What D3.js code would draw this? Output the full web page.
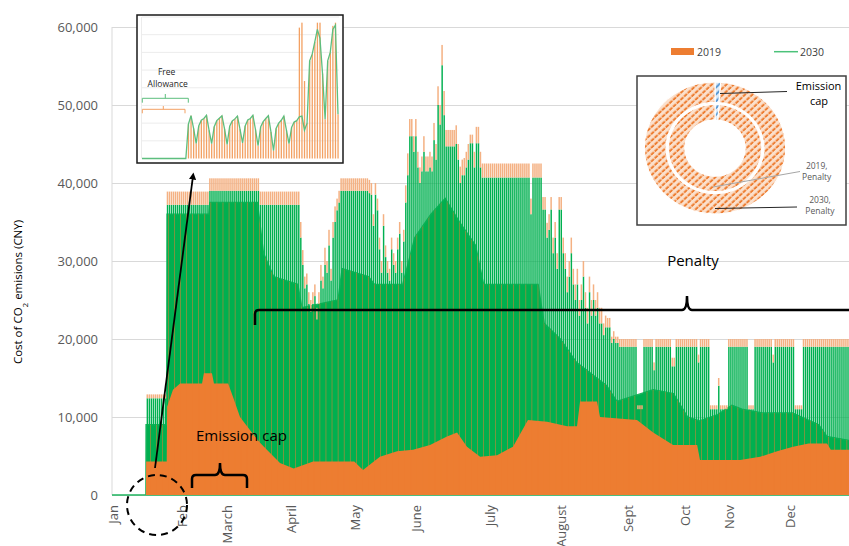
<!DOCTYPE html>
<html>
<head>
<meta charset="utf-8">
<script src="https://cdn.jsdelivr.net/npm/d3@7"></script>
<style>
body { margin: 0; background: #fff; }
text { font-family: "Open Sans", sans-serif; }
</style>
</head>
<body>
<svg id="chart" width="849" height="546"></svg>
<script>
// values in thousand CNY, one entry per day of the year (row = one week, starting Tue 1 Jan)
var peak2019 = [
  0,0,0,0,0,0,0,
  0,0,0,0,0,0,0,
  0,0,0,12.9,12.9,12.9,12.9,
  12.9,12.9,12.9,12.9,12.9,12.9,38.9,
  38.9,38.9,38.9,38.9,38.9,38.9,38.9,
  38.9,38.9,38.9,38.9,38.9,38.9,38.9,
  38.9,38.9,38.9,38.9,38.9,38.9,40.6,
  40.6,40.6,40.6,40.6,40.6,40.6,40.6,
  40.6,40.6,40.6,40.6,40.6,40.6,40.6,
  40.6,40.6,40.6,40.6,40.6,40.6,40.6,
  40.6,40.6,40.6,38.9,38.9,38.9,38.9,
  38.9,38.9,38.9,38.9,38.9,38.9,38.9,
  38.9,38.9,38.9,38.9,38.9,38.9,38.9,
  38.9,38.9,35,31.4,28,28.4,26,
  25,26,27,24,26,29.5,28,
  31.7,30,34,29,35,37,38,
  39,40.6,40.6,40.6,40.6,40.6,40.6,
  40.6,40.6,40.6,40.6,40.6,40.6,40.6,
  40.6,40.4,40,36,40,38,33,
  30,36,32,30,29,33,31,
  30,33,35,30,34,39.7,43.8,
  48.2,48.2,46,48.2,44,42,43.4,
  46,43.4,43.4,44,43.4,47.7,45,
  52.4,50,57.7,51.8,46.8,46.8,46.8,
  46.8,46.8,47.4,45,42.1,43,43.2,
  44,45,46.2,46.2,44,47.2,47.2,
  44,42.5,42.5,42.5,42.5,42.5,42.5,
  42.5,42.5,42.5,42.5,42.5,42.5,42.5,
  42.5,42.5,42.5,42.5,42.5,42.5,42.5,
  42.5,42.5,42.5,42.5,38,42.5,42.5,
  42.5,42.5,42.5,38.2,38.2,34.9,36,
  38.2,33,35,31,38.2,38.2,33,
  31,28,30,33,29,27,29,
  25,27,30,26,24,28,25,
  27,25,26,24,24,22,23,
  22.7,22.7,20.3,21,20.3,20.3,20,
  20,20,20,20,20,20,20,
  20,11.5,11.5,11.5,20,20,20,
  20,20,17,20,20,20,20,
  20,20,20,20,17.6,17.6,20,
  20,20,20,20,20,20,20,
  20,20,20,18,20,20,20,
  20,20,11.5,11.5,11.5,11.5,15,
  11.5,11.5,11.5,11.5,20,20,20,
  20,20,20,20,20,20,20,
  11.5,11.5,11.5,20,20,20,20,
  20,20,20,20,20,18,20,
  20,20,20,20,20,20,20,
  20,20,11.5,11.5,11.5,11.5,20,
  20,20,20,20,20,20,20,
  20,20,20,20,20,20,20,
  20,20,20,20,20,20,20,
  20
];
var peak2030 = [
  0,0,0,0,0,0,0,
  0,0,0,0,0,0,0,
  0,0,0,12.4,12.4,12.4,12.4,
  12.4,12.4,12.4,12.4,12.4,12.4,37.2,
  37.2,37.2,37.2,37.2,37.2,37.2,37.2,
  37.2,37.2,37.2,37.2,37.2,37.2,37.2,
  37.2,37.2,37.2,37.2,37.2,37.2,39,
  39,39,39,39,39,39,39,
  39,39,39,39,39,39,39,
  39,39,39,39,39,39,39,
  39,39,39,37.2,37.2,37.2,37.2,
  37.2,37.2,37.2,37.2,37.2,37.2,37.2,
  37.2,37.2,37.2,37.2,37.2,37.2,37.2,
  37.2,37.2,33,29.5,26.5,27,24.5,
  23.5,24.5,25.5,22.5,24.5,27.5,26.5,
  29.5,28.5,32,27.5,33,35,36.5,
  37.5,39,39,39,39,39,39,
  39,39,39,39,39,39,39,
  39,38.7,38.5,34.5,38.5,36.5,31.5,
  28.5,34.5,30.5,28.5,27.5,31.5,29.5,
  28.5,31.5,33.5,28.5,32.5,37.5,41,
  46,46,44,46,42,40,41.5,
  44,41.5,41.5,42,41.5,45.5,43,
  50,47.5,55.1,48.7,44.7,44.7,44.7,
  44.7,44.7,45,43,40,41,41,
  42,43,45.1,45.1,42,45.1,45.1,
  42,40.7,40.7,40.7,40.7,40.7,40.7,
  40.7,40.7,40.7,40.7,40.7,40.7,40.7,
  40.7,40.7,40.7,40.7,40.7,40.7,40.7,
  40.7,40.7,40.7,40.7,36,40.7,40.7,
  40.7,40.7,40.7,36.6,36.6,33,34,
  36.6,31,33,29,36.6,36.6,31,
  29,26,28,31,27,25,27,
  23,25,28,24,22,26,23,
  25,23,24,22,22,20.5,21.5,
  21.5,21.5,19.5,20,19.5,19.5,19,
  19,19,19,19,19,19,19,
  19,11,11,11,19,19,19,
  19,19,16,19,19,19,19,
  19,19,19,19,16.5,16.5,19,
  19,19,19,19,19,19,19,
  19,19,19,17,19,19,19,
  19,19,11,11,11,11,14,
  11,11,11,11,19,19,19,
  19,19,19,19,19,19,19,
  11,11,11,19,19,19,19,
  19,19,19,19,19,17,19,
  19,19,19,19,19,19,19,
  19,19,11,11,11,11,19,
  19,19,19,19,19,19,19,
  19,19,19,19,19,19,19,
  19,19,19,19,19,19,19,
  19
];
// 2019 emission-cap level (solid orange), [day, thousand CNY]
var cap2019 = [
  [0,0],[16.8,0],[16.9,4.3],[27.1,4.3],[27.3,11.3],[30.2,13.5],[33.7,14.3],[44.6,14.3],
  [45.5,15.6],[49.5,15.6],[50.5,14.3],[57.5,14.3],[59.9,12.6],[63.4,10],[68.4,8.3],
  [73.3,6.7],[78.3,5.4],[83.2,4.1],[90,3.4],[99.6,4.3],[120,4.3],[124.3,3.2],[132.7,4.9],
  [141.2,5.6],[149.1,5.8],[157.5,6.4],[165.9,7.5],[170.9,8],[175.8,6.2],[182.3,4.9],
  [190.7,5.1],[198.6,6.2],[206,9.6],[215.5,9.4],[225.4,8.8],[230.3,8.8],[231.8,12],
  [240.2,12],[241.7,10],[260,9.6],[268,8],[277.9,6.4],[289.8,6.4],[291.2,4.5],[311.1,4.5],
  [321,4.9],[329.4,5.6],[337.3,6.2],[345,6.6],[354.1,6.6],[356,5.8],[365,5.8]
];
// top of the dense 2030 band, [day, thousand CNY]
var band2030 = [
  [0,0],[16.8,0],[16.9,9],[27.1,9],[27.3,36],[48,36],[48.5,37.5],[72,37.5],[75,31],
  [80,28],[92,27],[94,24],[112,25],[114,29],[127,28],[130,27],[144,27],[150,33],
  [158,36],[165,38],[172,35],[180,32],[184,27],[211,27],[214,22],[222,20],[230,17],
  [245,14],[250,12],[268,13.5],[278,13],[285,10],[291,9.5],[300,10.3],[307,11.5],
  [312,11],[322,10.5],[337,10.5],[350,9],[354,7.5],[365,7]
];
var yTicks = [0, 10, 20, 30, 40, 50, 60];
var monthLabels = ['Jan','Feb','March','April','May','June','July','August','Sept','Oct','Nov','Dec'];
var monthDays = [0.5, 34.7, 57, 88.7, 120.4, 150.9, 187.2, 222.4, 255.7, 283.8, 305.6, 335.8];

// zoomed inset (free allowance period), thousand CNY per 4-hour step
var insetOrange = [
  0,0,0,0,0,0,0,0,0,0,0,0,0,0,0,0,0,0,9.7,
  12.1,8.5,4.3,9.2,10.8,11.3,
  12.2,8.0,4.2,9.0,10.7,11.4,
  12.1,8.4,4.0,9.1,10.6,11.2,
  12.0,8.3,4.4,9.2,10.9,11.3,
  12.2,8.2,3.6,8.9,10.4,11.3,
  12.1,7.5,2.2,8.5,10.0,10.8,
  12.0,8.0,4.2,8.8,10.3,10.7,
  37.0,38.4,21.9,10.0,27.6,29.5,33.0,38.4,38.4,24.0,11.1,27.6,30.0,37.5,38.4,12.5
];
var insetGreen = [
  0,0,0,0,0,0,0,0,0,0,0,0,0,0,0,0,0,0,9.7,
  12.1,8.5,4.3,9.2,10.8,11.3,
  12.2,8.0,4.2,9.0,10.7,11.4,
  12.1,8.4,4.0,9.1,10.6,11.2,
  12.0,8.3,4.4,9.2,10.9,11.3,
  12.2,8.2,3.6,8.9,10.4,11.3,
  12.1,7.5,2.2,8.5,10.0,10.8,
  12.0,8.0,4.2,8.8,10.3,10.7,
  11.8,12.0,8.0,10.0,27.6,29.5,33.0,36.5,34.0,24.0,11.1,27.6,30.0,36.5,37.7,12.5
];

// share of yearly cost: emission cap vs penalty (%)
var donutParts = ['Emission cap', 'Penalty'];
var donut2019 = [1.5, 98.5];
var donut2030 = [1.3, 98.7];

var orange = '#ED7D31', orangeTip = '#F4B183', green = '#00B050';

var svg = d3.select('#chart'),
    margin = {top: 27, right: 0, bottom: 51, left: 112},
    width = +svg.attr('width') - margin.left - margin.right,
    height = +svg.attr('height') - margin.top - margin.bottom;

var defs = svg.append('defs');

var g = svg.append('g')
    .attr('transform', 'translate(' + margin.left + ',' + margin.top + ')');

var x = d3.scaleLinear().domain([0, 365]).range([0, width]);
var y = d3.scaleLinear().domain([0, 60]).range([height, 0]);

// grid
g.append('g')
    .call(d3.axisLeft(y).tickValues(yTicks).tickSize(-width).tickFormat(''))
    .call(a => a.select('.domain').remove())
    .selectAll('line').attr('stroke', '#d9d9d9');

g.append('line')
    .attr('x1', 0).attr('x2', 0).attr('y1', 0).attr('y2', height)
    .attr('stroke', '#d9d9d9');

g.append('g')
    .call(d3.axisLeft(y).tickValues(yTicks).tickSize(0).tickPadding(14)
        .tickFormat(d => d3.format(',')(d * 1000)))
    .call(a => a.select('.domain').remove())
    .selectAll('text')
    .attr('fill', '#595959')
    .style('font-size', '13px')
    .style('font-family', '"Open Sans", sans-serif');

// month labels
g.append('g').selectAll('text')
    .data(monthLabels)
    .enter().append('text')
    .attr('transform', (d, i) => 'translate(' + x(monthDays[i]) + ',' + (height + 10) + ') rotate(-90)')
    .attr('text-anchor', 'end')
    .attr('dy', '0.35em')
    .attr('fill', '#595959')
    .style('font-size', '13px')
    .text(d => d);

// y title
svg.append('text')
    .attr('transform', 'translate(22,292) rotate(-90)')
    .attr('text-anchor', 'middle')
    .style('font-size', '11.5px')
    .attr('fill', '#000')
    .call(t => {
        t.append('tspan').text('Cost of CO');
        t.append('tspan').text('2').attr('baseline-shift', 'sub').style('font-size', '8px');
        t.append('tspan').text(' emisions (CNY)');
    });

// ---- series ----
var plot = g.append('g');
var days = d3.range(peak2019.length);

var bandArea = d3.area()
    .x(d => x(d[0]))
    .y0(height)
    .y1(d => y(d[1]));

defs.append('clipPath').attr('id', 'bandClip')
    .append('path').attr('d', bandArea(band2030))
    .attr('transform', 'translate(' + margin.left + ',' + margin.top + ')');

plot.append('path')
    .attr('d', bandArea(band2030))
    .attr('fill', green)
    .attr('stroke', '#1fb45f')
    .attr('stroke-width', 1.5);

// 2030 daily highs
plot.append('g').selectAll('rect')
    .data(days.filter(i => peak2030[i] > 0))
    .enter().append('rect')
    .attr('x', i => x(i) + 0.3)
    .attr('width', 1.45)
    .attr('y', i => y(peak2030[i]))
    .attr('height', i => height - y(peak2030[i]))
    .attr('fill', green);

// a few 2019 hours showing through the dense band
svg.append('g')
    .attr('clip-path', 'url(#bandClip)')
    .append('g')
    .attr('transform', 'translate(' + margin.left + ',' + margin.top + ')')
    .selectAll('rect')
    .data(days.filter(i => peak2019[i] > 0 && i % 3 === 0))
    .enter().append('rect')
    .attr('x', i => x(i) + 1.7)
    .attr('width', 0.5)
    .attr('y', i => y(peak2019[i]))
    .attr('height', i => height - y(peak2019[i]))
    .attr('fill', orange);

// emission cap (2019)
plot.append('path')
    .attr('d', d3.area().x(d => x(d[0])).y0(height).y1(d => y(d[1]))(cap2019))
    .attr('fill', orange);

// 2019 tips above 2030
plot.append('g').selectAll('rect')
    .data(days.filter(i => peak2019[i] > peak2030[i]))
    .enter().append('rect')
    .attr('x', i => x(i) + 0.2)
    .attr('width', 1.5)
    .attr('y', i => y(peak2019[i]))
    .attr('height', i => y(peak2030[i]) - y(peak2019[i]))
    .attr('fill', orangeTip);

// ---- annotations ----
svg.append('path')
    .attr('d', 'M255,325 L255,314 Q255,310 259,310 L682,310 Q687,310 687,296 Q687,310 692,310 L860,310')
    .attr('fill', 'none').attr('stroke', '#000').attr('stroke-width', 2.5);

svg.append('text')
    .attr('x', 693).attr('y', 266)
    .attr('text-anchor', 'middle')
    .style('font-size', '15px')
    .text('Penalty');

svg.append('path')
    .attr('d', 'M192,488 L192,479 Q192,475 196,475 L215,475 Q220,475 220,463 Q220,475 225,475 L243,475 Q247,475 247,479 L247,488')
    .attr('fill', 'none').attr('stroke', '#000').attr('stroke-width', 2.5);

svg.append('text')
    .attr('x', 196).attr('y', 441)
    .style('font-size', '15px')
    .text('Emission cap');

svg.append('circle')
    .attr('cx', 157).attr('cy', 505).attr('r', 30)
    .attr('fill', 'none').attr('stroke', '#000')
    .attr('stroke-width', 2).attr('stroke-dasharray', '7,5');

defs.append('marker')
    .attr('id', 'arrow').attr('viewBox', '0 0 10 10')
    .attr('refX', 5).attr('refY', 5)
    .attr('markerWidth', 4).attr('markerHeight', 4)
    .attr('orient', 'auto-start-reverse')
    .append('path').attr('d', 'M0,0 L10,5 L0,10 z').attr('fill', '#000');

svg.append('line')
    .attr('x1', 155).attr('y1', 468).attr('x2', 193).attr('y2', 176)
    .attr('stroke', '#000').attr('stroke-width', 1.8)
    .attr('marker-end', 'url(#arrow)');

// ---- inset: zoom on the free allowance ----
var inset = svg.append('g');
inset.append('rect')
    .attr('x', 137).attr('y', 15).attr('width', 206).attr('height', 148)
    .attr('fill', '#fff').attr('stroke', '#1a1a1a').attr('stroke-width', 1.5);

var ix = d3.scaleLinear().domain([0, insetOrange.length - 1]).range([142, 338]);
var iy = d3.scaleLinear().domain([0, 40]).range([158.5, 17]);

inset.append('g').selectAll('line')
    .data([5, 10, 15, 20, 25, 30, 35, 40])
    .enter().append('line')
    .attr('x1', 142).attr('x2', 339)
    .attr('y1', d => iy(d)).attr('y2', d => iy(d))
    .attr('stroke', '#ececec');
inset.append('line')
    .attr('x1', 141.5).attr('x2', 141.5).attr('y1', iy(40)).attr('y2', iy(0))
    .attr('stroke', '#ececec');

inset.append('g').selectAll('rect')
    .data(insetOrange.map((v, i) => i).filter(i => insetOrange[i] > 0))
    .enter().append('rect')
    .attr('x', i => ix(i) - 0.6)
    .attr('width', 1.3)
    .attr('y', i => iy(insetOrange[i]))
    .attr('height', i => iy(0) - iy(insetOrange[i]))
    .attr('fill', '#F3A163');

inset.append('path')
    .attr('d', d3.line().x((d, i) => ix(i)).y(d => iy(d))(insetGreen))
    .attr('fill', 'none').attr('stroke', '#5DBE7E').attr('stroke-width', 1.3);

inset.append('path')
    .attr('d', 'M142.3,102.7 L142.3,98.3 L188.3,98.3 L188.3,102.7 M165.3,98.3 L165.3,94')
    .attr('fill', 'none').attr('stroke', '#5DBE7E').attr('stroke-width', 1);
inset.append('path')
    .attr('d', 'M142.3,113.3 L142.3,109.3 L185,109.3 L185,113.3 M163.3,109.3 L163.3,106')
    .attr('fill', 'none').attr('stroke', '#F3A163').attr('stroke-width', 1);

inset.append('text').attr('x', 166.7).attr('y', 74.5)
    .attr('text-anchor', 'middle').style('font-size', '8.5px').attr('fill', '#262626').text('Free');
inset.append('text').attr('x', 167.7).attr('y', 86.5)
    .attr('text-anchor', 'middle').style('font-size', '8.5px').attr('fill', '#262626').text('Allowance');

// ---- legend ----
var legend = svg.append('g').style('font-size', '10.5px');
legend.append('rect').attr('x', 671).attr('y', 48).attr('width', 23).attr('height', 7).attr('fill', orange);
legend.append('text').attr('x', 697).attr('y', 55.5).attr('fill', '#404040').text('2019');
legend.append('line').attr('x1', 774).attr('x2', 798).attr('y1', 51.7).attr('y2', 51.7)
    .attr('stroke', '#4CC27A').attr('stroke-width', 1.5);
legend.append('text').attr('x', 800).attr('y', 55.5).attr('fill', '#404040').text('2030');

// ---- donut inset ----
var hatchO = defs.append('pattern')
    .attr('id', 'hatchO').attr('patternUnits', 'userSpaceOnUse')
    .attr('width', 5).attr('height', 5).attr('patternTransform', 'rotate(45)');
hatchO.append('rect').attr('width', 5).attr('height', 5).attr('fill', '#FBE0CC');
hatchO.append('line').attr('x1', 1.5).attr('x2', 1.5).attr('y1', 0).attr('y2', 5)
    .attr('stroke', orange).attr('stroke-width', 2).attr('stroke-dasharray', '3.5,1');

var hatchB = defs.append('pattern')
    .attr('id', 'hatchB').attr('patternUnits', 'userSpaceOnUse')
    .attr('width', 5).attr('height', 5).attr('patternTransform', 'rotate(45)');
hatchB.append('rect').attr('width', 5).attr('height', 5).attr('fill', '#DEEBF7');
hatchB.append('line').attr('x1', 1.5).attr('x2', 1.5).attr('y1', 0).attr('y2', 5)
    .attr('stroke', '#5B9BD5').attr('stroke-width', 2);

svg.append('rect')
    .attr('x', 637).attr('y', 76).attr('width', 209).attr('height', 149)
    .attr('fill', '#fff').attr('stroke', '#404040').attr('stroke-width', 1.5);

var pie = d3.pie().sort(null).value(d => d);
var donut = svg.append('g').attr('transform', 'translate(715,148) scale(1.04,0.97)');

[[donut2030, 47, 68], [donut2019, 29, 45]].forEach(function (ring) {
    donut.append('g').selectAll('path')
        .data(pie(ring[0]))
        .enter().append('path')
        .attr('d', d3.arc().innerRadius(ring[1]).outerRadius(ring[2]))
        .attr('fill', (d, i) => i === 0 ? 'url(#hatchB)' : 'url(#hatchO)')
        .attr('stroke', '#fff').attr('stroke-width', 1.2);
});

var dl = svg.append('g');
dl.append('line').attr('x1', 720).attr('y1', 93.5).attr('x2', 787).attr('y2', 91.5)
    .attr('stroke', '#262626');
dl.append('text').attr('x', 818.5).attr('y', 89.5).attr('text-anchor', 'middle')
    .style('font-size', '11px').text(donutParts[0].split(' ')[0]);
dl.append('text').attr('x', 819).attr('y', 104.5).attr('text-anchor', 'middle')
    .style('font-size', '11px').text(donutParts[0].split(' ')[1]);

dl.append('line').attr('x1', 713).attr('y1', 187).attr('x2', 800).attr('y2', 171.5)
    .attr('stroke', '#a6a6a6');
dl.append('text').attr('x', 816.7).attr('y', 168.5).attr('text-anchor', 'middle')
    .style('font-size', '8.5px').attr('fill', '#595959').text('2019,');
dl.append('text').attr('x', 816.7).attr('y', 180.3).attr('text-anchor', 'middle')
    .style('font-size', '8.5px').attr('fill', '#595959').text(donutParts[1]);

dl.append('line').attr('x1', 715).attr('y1', 208.5).attr('x2', 797).attr('y2', 207)
    .attr('stroke', '#262626');
dl.append('text').attr('x', 820).attr('y', 202.5).attr('text-anchor', 'middle')
    .style('font-size', '8.5px').attr('fill', '#595959').text('2030,');
dl.append('text').attr('x', 820).attr('y', 214.3).attr('text-anchor', 'middle')
    .style('font-size', '8.5px').attr('fill', '#595959').text(donutParts[1]);
</script>
</body>
</html>
